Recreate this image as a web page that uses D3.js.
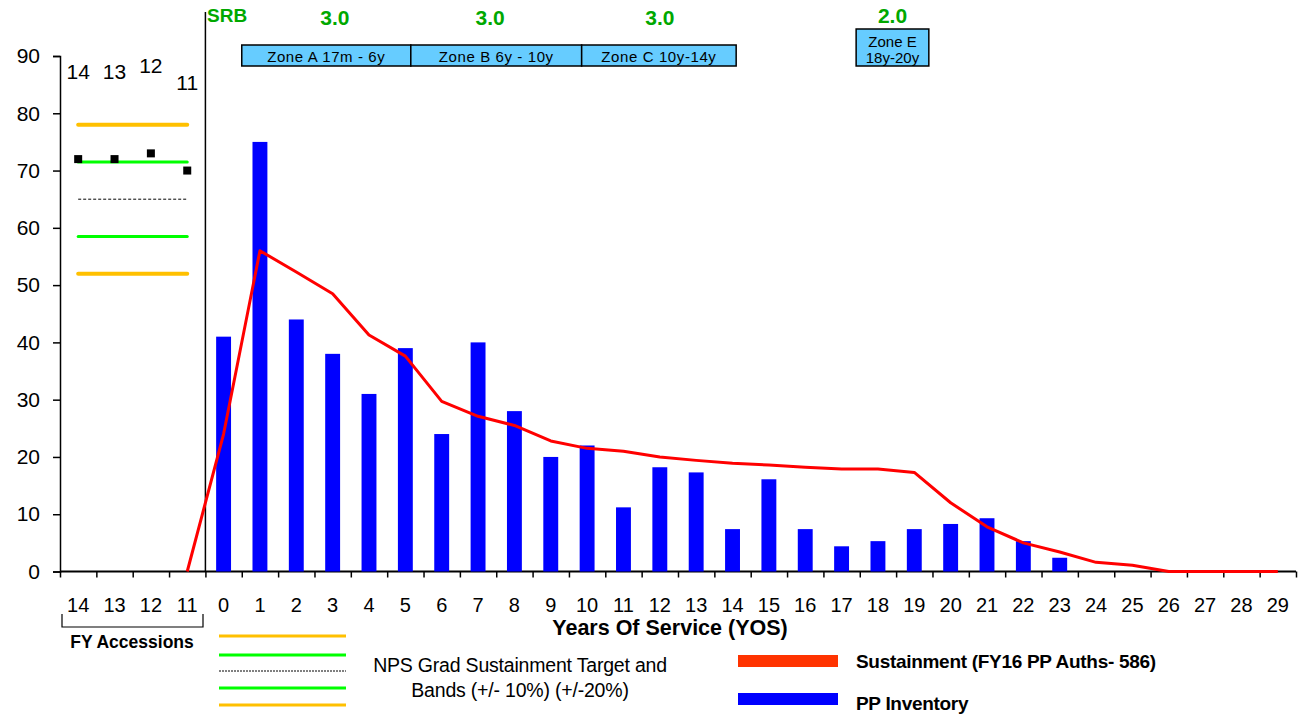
<!DOCTYPE html>
<html><head><meta charset="utf-8">
<script src="https://cdn.jsdelivr.net/npm/d3@7"></script>
<style>
body{margin:0;background:#fff;}
svg{display:block;font-family:"Liberation Sans",Arial,sans-serif;}
</style></head><body>
<svg id="c" width="1299" height="715"></svg>
<script>
// ---- data ----
const fyCats = ["14","13","12","11"];          // FY accession years
const yosCats = d3.range(0,30).map(String);    // years of service
const fyAccessions = [72, 72, 73, 70];
const ppInventory = [41,75,44,38,31,39,24,40,28,20,22,11.2,18.2,17.3,7.4,16.1,7.4,4.4,5.3,7.4,8.3,9.3,5.3,2.4,0,0,0,0,0,0];
const sustainment = [24,56,52.3,48.5,41.3,37.6,29.7,27.1,25.5,22.8,21.5,21,20,19.4,18.9,18.6,18.2,17.9,17.9,17.3,12,7.8,5,3.4,1.6,1.1,0,0,0,0];
const sustainStartFY = "11", sustainStartValue = 0;
const target = 65;
const bandValues = [78, 71.5, 58.5, 52];
const yTicks = d3.range(0,100,10);
const zoneLabels = [["Zone A 17m - 6y"],["Zone B 6y - 10y"],["Zone C 10y-14y"],["Zone E","18y-20y"]];
const zoneFrom = [0.5, 5.15, 9.85, 17.4];
const zoneTo = [5.15, 9.85, 14.1, 19.4];
const srbValues = ["3.0","3.0","3.0","2.0"];
const srbAt = [3.06, 7.33, 12.0, 18.4];

// keys for the combined band scale
const keyFY = c => "FY" + c, keyY = c => "Y" + c;
const categories = fyCats.map(keyFY).concat(yosCats.map(keyY));

const svg = d3.select("#c");
const x = d3.scaleBand().domain(categories).range([60,1296]).padding(0);
const step = x.step();
const cx = k => x(k) + step/2;
const xl = d3.scaleLinear().domain([0,categories.length]).range([60,1296]);
const xYos = v => cx("Y0") + v*step;
const y = d3.scaleLinear().domain([0,90]).range([571.5,56]);
const green = "#00a800";
const bandStyle = [{c:"#ffc000",w:4},{c:"#00ff00",w:3},{c:"#00ff00",w:3},{c:"#ffc000",w:4}];

// y axis
const ya = svg.append("g").attr("transform","translate(60,0)")
  .call(d3.axisLeft(y).tickValues(yTicks).tickSize(7).tickPadding(13));
ya.select(".domain").attr("stroke","#000").attr("stroke-width",1.5);
ya.selectAll(".tick line").attr("stroke","#000").attr("stroke-width",1.5);
ya.selectAll(".tick text").attr("font-size",21).attr("font-family","Liberation Sans, Arial").attr("fill","#000");

// x axis boundary ticks
const xa = svg.append("g").attr("transform","translate(0,571.5)")
  .call(d3.axisBottom(xl).tickValues(d3.range(0,categories.length+1)).tickSize(6).tickFormat(""));
xa.select(".domain").attr("stroke","#000").attr("stroke-width",2).attr("d","M60,0H1296");
xa.selectAll(".tick line").attr("stroke","#000").attr("stroke-width",1.5);
// x labels
const xlab = svg.append("g").attr("transform","translate(0,571.5)")
  .call(d3.axisBottom(x).tickSize(0).tickPadding(26).tickFormat(k=>k.replace(/^FY|^Y/,"")));
xlab.select(".domain").remove();
xlab.selectAll(".tick text").attr("font-size",20).attr("font-family","Liberation Sans, Arial").attr("fill","#000");

// separator
svg.append("line").attr("x1",xl(4)).attr("x2",xl(4)).attr("y1",12).attr("y2",571.5)
  .attr("stroke","#000").attr("stroke-width",1.5);

// bars
const bw = step*0.41;
svg.append("g").selectAll("rect").data(ppInventory.map((v,i)=>({k:keyY(yosCats[i]),v})).filter(d=>d.v>0))
  .join("rect").attr("x",d=>cx(d.k)-bw/2).attr("width",bw)
  .attr("y",d=>y(d.v)).attr("height",d=>y(0)-y(d.v)).attr("fill","#0000ff");

// sustainment line
const sData = [{k:keyFY(sustainStartFY),v:sustainStartValue}].concat(sustainment.map((v,i)=>({k:keyY(yosCats[i]),v})));
svg.append("path").datum(sData)
  .attr("fill","none").attr("stroke","#ff0000").attr("stroke-width",3).attr("stroke-linejoin","round")
  .attr("d",d3.line().x(d=>cx(d.k)).y(d=>y(d.v)));

// target bands in FY section
const bx1 = cx(keyFY("14")), bx2 = cx(keyFY("11"));
bandValues.forEach((v,i)=>{
  svg.append("line").attr("x1",bx1).attr("x2",bx2).attr("y1",y(v)).attr("y2",y(v))
    .attr("stroke",bandStyle[i].c).attr("stroke-width",bandStyle[i].w).attr("stroke-linecap","round");
});
svg.append("line").attr("x1",bx1).attr("x2",bx2).attr("y1",y(target)).attr("y2",y(target))
  .attr("stroke","#000").attr("stroke-width",1).attr("stroke-dasharray","3,2");

// FY accession points + labels
const fyData = fyAccessions.map((v,i)=>({k:keyFY(fyCats[i]),c:fyCats[i],v}));
svg.append("g").selectAll("rect").data(fyData)
  .join("rect").attr("x",d=>cx(d.k)-4).attr("y",d=>y(d.v)-4).attr("width",8).attr("height",8).attr("fill","#000");
svg.append("g").selectAll("text").data(fyData)
  .join("text").attr("x",d=>cx(d.k)).attr("y",d=>y(d.v+14)).attr("text-anchor","middle")
  .attr("font-size",21).text(d=>d.c);

// SRB labels and zones
svg.append("text").attr("x",207).attr("y",22).attr("fill",green).attr("font-weight","bold").attr("font-size",19).text("SRB");
zoneLabels.forEach((lab,zi)=>{
  const x0 = xYos(zoneFrom[zi]), x1 = xYos(zoneTo[zi]);
  const two = lab.length>1;
  const top = two ? 29 : 45;
  svg.append("rect").attr("x",x0).attr("y",top).attr("width",x1-x0).attr("height",66-top)
    .attr("fill","#66ccff").attr("stroke","#000").attr("stroke-width",1.5);
  lab.forEach((t,i)=>{
    svg.append("text").attr("x",(x0+x1)/2).attr("y",two? 47+i*16 : 62)
      .attr("text-anchor","middle").attr("font-size",15).attr("letter-spacing",two?0:0.6).text(t);
  });
  svg.append("text").attr("x",xYos(srbAt[zi])).attr("y",two?23:25)
    .attr("text-anchor","middle").attr("fill",green).attr("font-weight","bold").attr("font-size",21).text(srbValues[zi]);
});

// axis title
svg.append("text").attr("x",670).attr("y",635).attr("text-anchor","middle").attr("font-weight","bold")
  .attr("font-size",21.5).text("Years Of Service (YOS)");
// FY Accessions bracket
svg.append("path").attr("d","M62,614 V627 H203 V614").attr("fill","none").attr("stroke","#000").attr("stroke-width",1.2);
svg.append("text").attr("x",132).attr("y",648).attr("text-anchor","middle").attr("font-weight","bold")
  .attr("font-size",17.5).text("FY Accessions");

// legend left
const legLines = [{yy:636,c:"#ffc000",w:3},{yy:655,c:"#00ff00",w:3},{yy:671,c:"#000",w:1,d:"2,1"},{yy:688,c:"#00ff00",w:3},{yy:705,c:"#ffc000",w:3}];
legLines.forEach(l=>{
  svg.append("line").attr("x1",219).attr("x2",346).attr("y1",l.yy).attr("y2",l.yy)
    .attr("stroke",l.c).attr("stroke-width",l.w).attr("stroke-dasharray",l.d||null);
});
svg.append("text").attr("x",520).attr("y",672).attr("text-anchor","middle").attr("font-size",19.5).attr("letter-spacing",-0.2).text("NPS Grad Sustainment Target and");
svg.append("text").attr("x",520).attr("y",697).attr("text-anchor","middle").attr("font-size",19.5).attr("letter-spacing",-0.2).text("Bands (+/- 10%) (+/-20%)");
// legend right
svg.append("rect").attr("x",738).attr("y",655).attr("width",100).attr("height",12).attr("fill","#ff3300");
svg.append("text").attr("x",856).attr("y",668).attr("font-weight","bold").attr("font-size",19).attr("letter-spacing",-0.3).text("Sustainment (FY16 PP Auths- 586)");
svg.append("rect").attr("x",738).attr("y",693).attr("width",100).attr("height",12).attr("fill","#0000ff");
svg.append("text").attr("x",856).attr("y",710).attr("font-weight","bold").attr("font-size",19).attr("letter-spacing",-0.3).text("PP Inventory");
</script>
</body></html>
